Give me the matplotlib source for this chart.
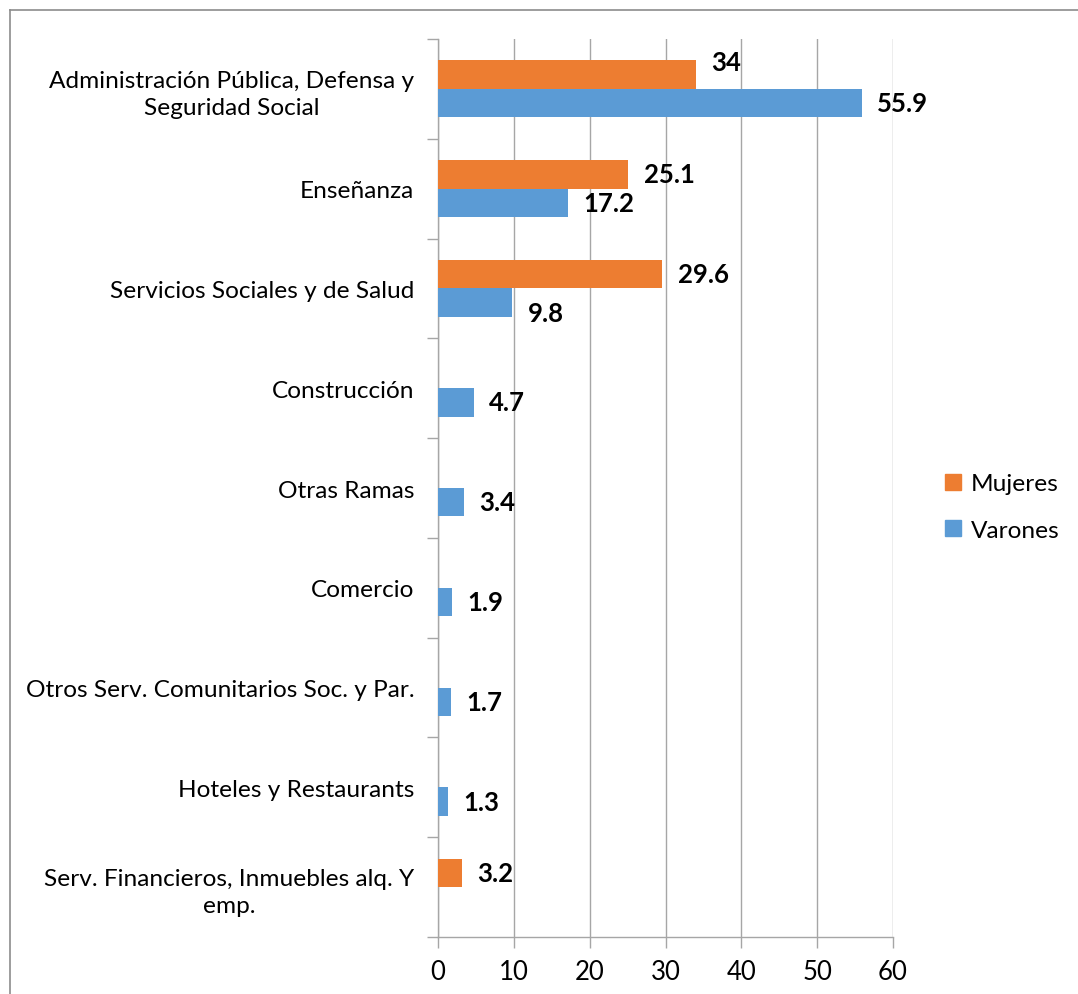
import matplotlib
matplotlib.use("Agg")
import matplotlib.pyplot as plt
from matplotlib.lines import Line2D
import numpy as np

categories = [
    "Administración Pública, Defensa y\nSeguridad Social",
    "Enseñanza",
    "Servicios Sociales y de Salud",
    "Construcción",
    "Otras Ramas",
    "Comercio",
    "Otros Serv. Comunitarios Soc. y Par.",
    "Hoteles y Restaurants",
    "Serv. Financieros, Inmuebles alq. Y\nemp.",
]
mujeres = [34, 25.1, 29.6, None, None, None, None, None, 3.2]
varones = [55.9, 17.2, 9.8, 4.7, 3.4, 1.9, 1.7, 1.3, None]
mujeres_labels = ["34", "25.1", "29.6", "", "", "", "", "", "3.2"]
varones_labels = ["55.9", "17.2", "9.8", "4.7", "3.4", "1.9", "1.7", "1.3", ""]
xticks = [0, 10, 20, 30, 40, 50, 60]

plt.rcParams['font.family'] = ['Lato', 'DejaVu Sans']

W, H = 1078, 995
fig = plt.figure(figsize=(W / 100, H / 100), dpi=100)
ax = fig.add_axes([438 / W, 1 - 938 / H, (893 - 438) / W, (938 - 40) / H])

ORANGE = "#ED7D31"
BLUE = "#5B9BD5"
GRID = "#A6A6A6"

n = len(categories)
y = np.arange(n)
h = 0.285
m = np.array([np.nan if v is None else v for v in mujeres], dtype=float)
v = np.array([np.nan if x is None else x for x in varones], dtype=float)

bm = ax.barh(y - h / 2, np.nan_to_num(m), height=h, color=ORANGE, label="Mujeres", zorder=3)
bv = ax.barh(y + h / 2, np.nan_to_num(v), height=h, color=BLUE, label="Varones", zorder=3)

tm = ax.bar_label(bm, labels=mujeres_labels, padding=11, fontsize=18.5, fontweight='bold', color='black')
tv = ax.bar_label(bv, labels=varones_labels, padding=11, fontsize=18.5, fontweight='bold', color='black')

# small manual nudges of two labels as in the original chart (pixels, up positive)
def nudge(t, dy_px):
    x0, y0 = t.xyann
    t.xyann = (x0, y0 + dy_px * 72 / 100)

nudge(tm[0], 13)
nudge(tv[2], -10)

ax.set_xlim(0, 60)
ax.set_ylim(n - 0.5, -0.5)
ax.set_xticks(xticks)
ax.set_xticklabels([str(t) for t in xticks], fontsize=18.5)

ax.set_yticks(y)
ax.set_yticklabels(categories, fontsize=17.6, multialignment='center', linespacing=1.35)
ax.tick_params(axis='y', length=0, pad=17)
ax.set_yticks(np.arange(n + 1) - 0.5, minor=True)
ax.tick_params(axis='y', which='minor', length=8, color=GRID, width=1)
ax.tick_params(axis='x', length=8, color=GRID, width=1, pad=8)

ax.grid(axis='x', color=GRID, linewidth=1, zorder=0)
ax.set_axisbelow(True)
for s in ['top', 'right']:
    ax.spines[s].set_visible(False)
for s in ['left', 'bottom']:
    ax.spines[s].set_color(GRID)
    ax.spines[s].set_linewidth(1)

handles = [
    Line2D([], [], marker='s', linestyle='none', markersize=12, color=ORANGE, label="Mujeres"),
    Line2D([], [], marker='s', linestyle='none', markersize=12, color=BLUE, label="Varones"),
]
fig.legend(handles=handles, loc='center left', bbox_to_anchor=(916 / W, 1 - 508 / H),
           frameon=False, fontsize=17.6, handletextpad=0.15, labelspacing=1.05, handlelength=1.2)

# chart border (top and left visible)
fig.add_artist(Line2D([9.5 / W, 9.5 / W], [0, 1 - 10.5 / H], color="#8C8C8C", linewidth=1.2, transform=fig.transFigure))
fig.add_artist(Line2D([9.5 / W, 1], [1 - 10.5 / H, 1 - 10.5 / H], color="#8C8C8C", linewidth=1.2, transform=fig.transFigure))

fig.savefig("out.png", dpi=100, facecolor='white')
